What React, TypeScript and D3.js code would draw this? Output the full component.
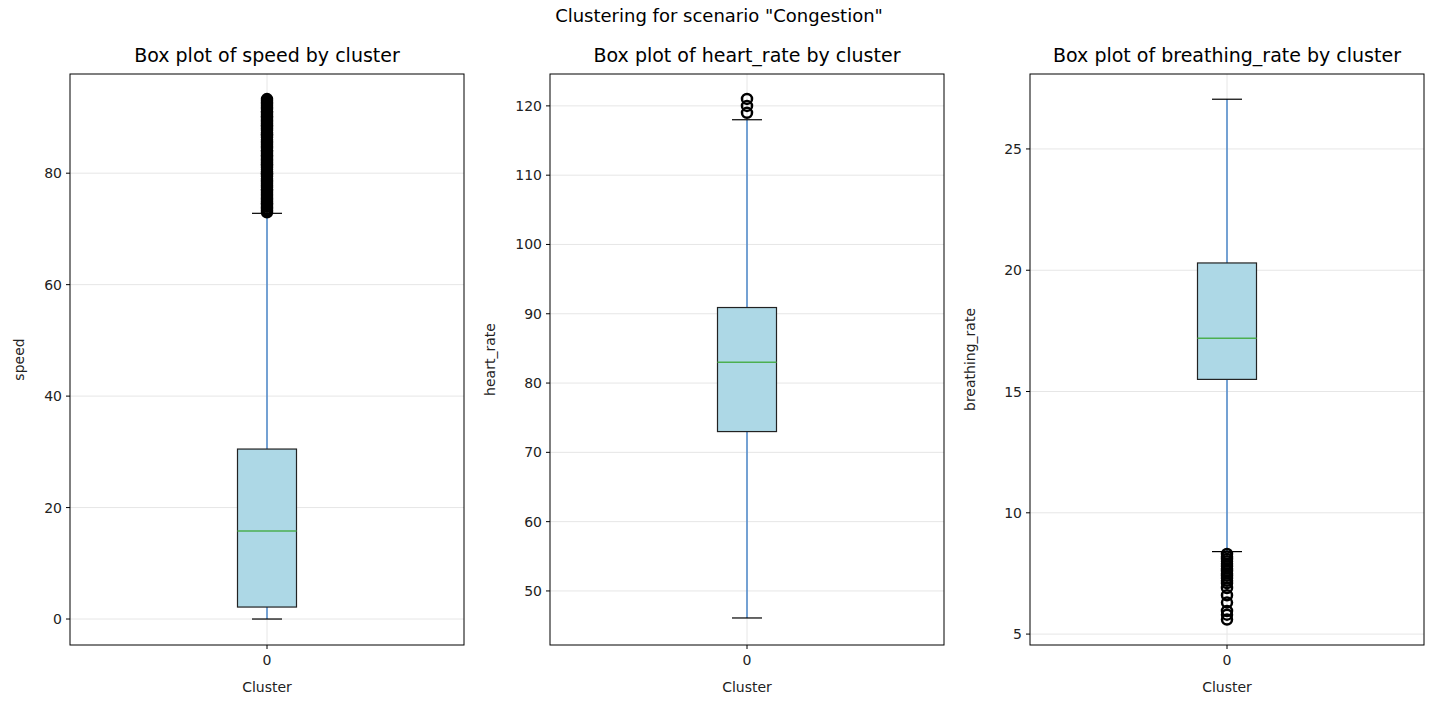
import React from "react";
import * as d3 from "d3";

const title = 'Clustering for scenario "Congestion"';
const vars = ["speed", "heart_rate", "breathing_rate"];
const domains: [number, number][] = [[-4.66, 97.8], [42.2, 124.6], [4.55, 28.09]];
const ticks = [[0, 20, 40, 60, 80], [50, 60, 70, 80, 90, 100, 110, 120], [5, 10, 15, 20, 25]];
const stats = [
  { lo: 0, q1: 2.15, med: 15.8, q3: 30.5, hi: 72.8 },
  { lo: 46.1, q1: 73, med: 83, q3: 90.9, hi: 118 },
  { lo: 8.4, q1: 15.5, med: 17.2, q3: 20.3, hi: 27.05 },
];
const outliers = [
  [73, 73.3, 73.6, 74, 74.3, 74.6, 74.9, 75.2, 75.6, 75.9, 76.2, 76.5, 76.8, 77.1, 77.5, 77.8, 78.1, 78.4, 78.7, 79, 79.4, 79.7, 80, 80.3, 80.7, 81, 81.3, 81.6, 81.9, 82.2, 82.6, 82.9, 83.2, 83.5, 83.8, 84.1, 84.5, 84.8, 85.1, 85.4, 85.7, 86, 86.4, 86.7, 87, 87.3, 87.7, 88, 88.3, 88.6, 88.9, 89.2, 89.6, 89.9, 90.2, 90.5, 90.8, 91.1, 91.5, 91.8, 92.1, 92.4, 92.7, 93, 93.3],
  [119, 120, 121],
  [8.3, 8.2, 8.1, 8.0, 7.9, 7.8, 7.7, 7.6, 7.5, 7.4, 7.3, 7.2, 7.1, 6.9, 6.6, 6.3, 5.95, 5.8, 5.6],
];

const lefts = [70, 550, 1030];
const W = 394, top = 74, bottom = 645;

export default function App() {
  return (
    <svg width={1437} height={711} style={{ display: "block", position: "absolute", left: 0, top: 0 }} fontFamily="DejaVu Sans" fontSize={14}>
      <rect width={1437} height={711} fill="white" />
      <text x={719} y={22} textAnchor="middle" fontSize={18}>{title}</text>
      {vars.map((v, i) => {
        const y = d3.scaleLinear().domain(domains[i]).range([bottom, top]);
        const L = lefts[i], cx = L + W / 2, bw = 59;
        const s = stats[i];
        return (
          <g key={v}>
            {ticks[i].map((t) => (
              <g key={t}>
                <line x1={L} x2={L + W} y1={y(t)} y2={y(t)} stroke="#e6e6e6" />
                <line x1={L - 4} x2={L} y1={y(t)} y2={y(t)} stroke="#000" />
                <text x={L - 8} y={y(t) + 5} textAnchor="end" fill="#222">{t}</text>
              </g>
            ))}
            <line x1={cx} x2={cx} y1={top} y2={bottom} stroke="#e6e6e6" />
            <line x1={cx} x2={cx} y1={bottom} y2={bottom + 4} stroke="#000" />
            <text x={cx} y={bottom + 20} textAnchor="middle" fill="#222">0</text>
            <text x={cx} y={bottom + 47} textAnchor="middle" fill="#222">Cluster</text>
            <text transform={`translate(${L - (i === 0 ? 46 : 55)},${(top + bottom) / 2}) rotate(-90)`} textAnchor="middle" fill="#222">{v}</text>
            <text x={cx} y={62} textAnchor="middle" fontSize={19}>{`Box plot of ${v} by cluster`}</text>
            <line x1={cx} x2={cx} y1={y(s.hi)} y2={y(s.q3)} stroke="#4a86c8" strokeWidth={1.5} />
            <line x1={cx} x2={cx} y1={y(s.q1)} y2={y(s.lo)} stroke="#4a86c8" strokeWidth={1.5} />
            <line x1={cx - 15} x2={cx + 15} y1={y(s.hi)} y2={y(s.hi)} stroke="#000" strokeWidth={1.2} />
            <line x1={cx - 15} x2={cx + 15} y1={y(s.lo)} y2={y(s.lo)} stroke="#000" strokeWidth={1.2} />
            <rect x={cx - bw / 2} width={bw} y={y(s.q3)} height={y(s.q1) - y(s.q3)} fill="#add8e6" stroke="#222" strokeWidth={1.2} />
            <line x1={cx - bw / 2} x2={cx + bw / 2} y1={y(s.med)} y2={y(s.med)} stroke="#4caf50" strokeWidth={1.5} />
            {outliers[i].map((o, k) => (
              <circle key={k} cx={cx} cy={y(o)} r={5} fill="none" stroke="#000" strokeWidth={2.5} />
            ))}
            <rect x={L} y={top} width={W} height={bottom - top} fill="none" stroke="#000" strokeWidth={1} />
          </g>
        );
      })}
    </svg>
  );
}
